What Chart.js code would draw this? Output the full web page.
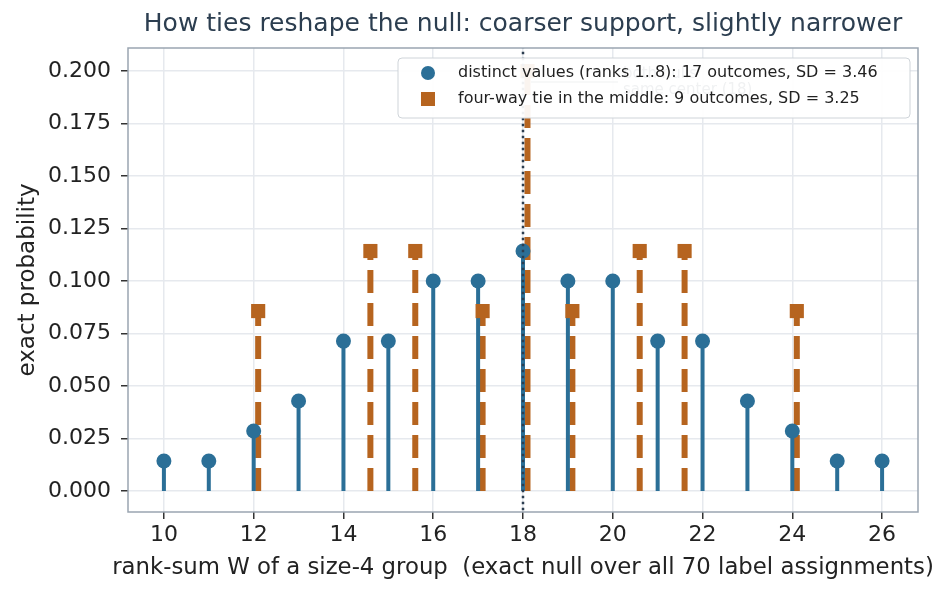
<!DOCTYPE html>
<html>
<head>
<meta charset="utf-8">
<script src="https://cdn.jsdelivr.net/npm/chart.js@4.4.1/dist/chart.umd.min.js"></script>
<style>
  html, body { margin: 0; padding: 0; background: #fff; }
  #wrap { width: 933px; height: 596px; position: relative; }
</style>
</head>
<body>
<div id="wrap"><canvas id="chart" width="933" height="596"></canvas></div>
<script>
// rank-sum values and exact probabilities (count / 70)
var distinctW = [10, 11, 12, 13, 14, 15, 16, 17, 18, 19, 20, 21, 22, 23, 24, 25, 26];
var distinctP = [0.0143, 0.0143, 0.0286, 0.0429, 0.0714, 0.0714, 0.1, 0.1, 0.1143,
                 0.1, 0.1, 0.0714, 0.0714, 0.0429, 0.0286, 0.0143, 0.0143];
// tied version, drawn nudged by +0.1 so the stems don't sit on top of each other
var tiedW = [12.1, 14.6, 15.6, 17.1, 18.1, 19.1, 20.6, 21.6, 24.1];
var tiedP = [0.0857, 0.1143, 0.1143, 0.0857, 0.2, 0.0857, 0.1143, 0.1143, 0.0857];
var nullCenter = 18;

var xTicks = [10, 12, 14, 16, 18, 20, 22, 24, 26];
var yTicks = [0, 0.025, 0.05, 0.075, 0.1, 0.125, 0.15, 0.175, 0.2];

var legendLabels = [
  'distinct values (ranks 1..8): 17 outcomes, SD = 3.46',
  'four-way tie in the middle: 9 outcomes, SD = 3.25'
];
var titleText = 'How ties reshape the null: coarser support, slightly narrower';
var xTitle = 'rank-sum W of a size-4 group  (exact null over all 70 label assignments)';
var yTitle = 'exact probability';

var BLUE = '#2b6f97';
var ORANGE = '#b6641f';
var INK = '#2c3e50';
var FONT = '"DejaVu Sans", sans-serif';

// stems as line segments broken by nulls
function stems(xs, ys) {
  var out = [];
  xs.forEach(function(x, i) {
    out.push({x: x, y: 0});
    out.push({x: x, y: ys[i]});
    out.push({x: x, y: null});
  });
  return out;
}
function points(xs, ys) {
  return xs.map(function(x, i) { return {x: x, y: ys[i]}; });
}

var extras = {
  id: 'extras',
  beforeDatasetsDraw: function(chart) {
    var ctx = chart.ctx;
    ctx.save();
    // faint note that ends up underneath the legend box
    var x = chart.scales.x;
    ctx.fillStyle = INK;
    ctx.font = '15px ' + FONT;
    ctx.textBaseline = 'middle';
    ctx.fillText('both nulls', 623, 74);
    ctx.fillText('same center (18)', 623, 90);
    ctx.strokeStyle = INK;
    ctx.lineWidth = 1.2;
    ctx.beginPath();
    ctx.moveTo(618, 82);
    ctx.lineTo(x.getPixelForValue(nullCenter) + 8, 82);
    ctx.stroke();
    ctx.restore();
  },
  afterDraw: function(chart) {
    var ctx = chart.ctx, a = chart.chartArea;
    ctx.save();
    // full frame around the plot
    ctx.strokeStyle = '#9aa5b1';
    ctx.lineWidth = 1.5;
    ctx.strokeRect(a.left, a.top, a.right - a.left, a.bottom - a.top);

    // title
    ctx.fillStyle = INK;
    ctx.font = '25px ' + FONT;
    ctx.textAlign = 'center';
    ctx.textBaseline = 'middle';
    ctx.fillText(titleText, (a.left + a.right) / 2, 24);

    // x axis title, wider than the plot so drawn here without squeezing
    ctx.fillStyle = '#222';
    ctx.font = '22.8px ' + FONT;
    ctx.fillText(xTitle, (a.left + a.right) / 2, 568);

    // legend box inside the plot
    var bx = 398, by = 58, bw = 512, bh = 60, r = 4;
    ctx.fillStyle = 'rgba(255,255,255,0.93)';
    ctx.strokeStyle = '#cfd4d9';
    ctx.lineWidth = 1;
    ctx.beginPath();
    ctx.roundRect(bx, by, bw, bh, r);
    ctx.fill();
    ctx.stroke();

    ctx.textAlign = 'left';
    ctx.font = '16px ' + FONT;
    ctx.fillStyle = BLUE;
    ctx.beginPath();
    ctx.arc(428, 73, 7, 0, Math.PI * 2);
    ctx.fill();
    ctx.fillStyle = ORANGE;
    ctx.fillRect(421, 92, 14, 14);
    ctx.fillStyle = '#222';
    ctx.fillText(legendLabels[0], 458, 73);
    ctx.fillText(legendLabels[1], 458, 99);
    ctx.restore();
  }
};

var tickFont = {family: FONT, size: 22};

new Chart(document.getElementById('chart'), {
  type: 'line',
  data: {
    datasets: [
      {
        data: stems(tiedW, tiedP),
        borderColor: ORANGE,
        borderWidth: 6,
        borderDash: [23, 10],
        borderCapStyle: 'butt',
        pointRadius: 0,
        spanGaps: false,
        order: 5
      },
      {
        data: stems(distinctW, distinctP),
        borderColor: BLUE,
        borderWidth: 4,
        borderCapStyle: 'butt',
        pointRadius: 0,
        spanGaps: false,
        order: 4
      },
      {
        data: points(tiedW, tiedP),
        showLine: false,
        pointStyle: 'rect',
        pointRadius: 10,
        pointBackgroundColor: ORANGE,
        pointBorderWidth: 0,
        order: 3
      },
      {
        data: points(distinctW, distinctP),
        showLine: false,
        pointStyle: 'circle',
        pointRadius: 7.5,
        pointBackgroundColor: BLUE,
        pointBorderWidth: 0,
        order: 2
      },
      {
        data: [{x: nullCenter, y: -0.012}, {x: nullCenter, y: 0.213}],
        borderColor: INK,
        borderWidth: 2.5,
        borderDash: [2.5, 3.5],
        borderCapStyle: 'butt',
        pointRadius: 0,
        order: 1
      }
    ]
  },
  options: {
    responsive: false,
    animation: false,
    layout: {padding: {top: 48, right: 15, left: 0, bottom: 0}},
    plugins: {
      legend: {display: false},
      tooltip: {enabled: false}
    },
    scales: {
      x: {
        type: 'linear',
        min: 9.2,
        max: 26.8,
        afterBuildTicks: function(s) { s.ticks = xTicks.map(function(v) { return {value: v}; }); },
        afterFit: function(s) { s.height = 84; },
        grid: {color: '#e6e9ee', lineWidth: 1.5, tickLength: 7, tickColor: '#333', drawTicks: true},
        border: {display: false},
        ticks: {color: '#222', font: tickFont, padding: 3, maxRotation: 0},
        title: {display: false}
      },
      y: {
        type: 'linear',
        min: -0.01,
        max: 0.211,
        afterBuildTicks: function(s) { s.ticks = yTicks.map(function(v) { return {value: v}; }); },
        afterFit: function(s) { s.width = 128; },
        grid: {color: '#e6e9ee', lineWidth: 1.5, tickLength: 7, tickColor: '#333'},
        border: {display: false},
        ticks: {color: '#222', font: tickFont, padding: 10, callback: function(v) { return v.toFixed(3); }},
        title: {display: true, text: yTitle, color: '#222', font: {family: FONT, size: 23}, padding: {top: 14, bottom: 0}}
      }
    }
  },
  plugins: [extras]
});
</script>
</body>
</html>
